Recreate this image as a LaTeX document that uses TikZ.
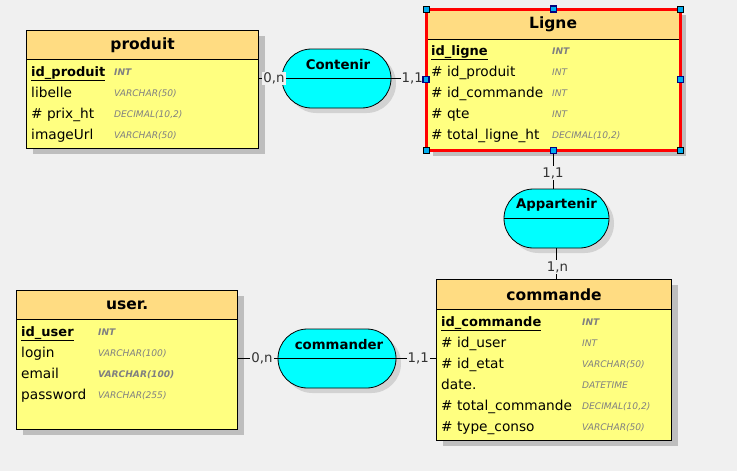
\documentclass[tikz,border=0pt]{standalone}
\usepackage{fontspec}
\setmainfont{DejaVu Sans}
\usetikzlibrary{positioning}
\definecolor{bg}{HTML}{F0F0F0}
\definecolor{hdr}{HTML}{FFDC82}
\definecolor{body}{HTML}{FFFF80}
\definecolor{shadowc}{HTML}{BEBEBE}
\definecolor{ashadow}{HTML}{D2D2D2}
\definecolor{typec}{HTML}{808080}
\definecolor{assoc}{HTML}{00FFFF}
\definecolor{navyh}{HTML}{000080}
\tikzset{
  x=1pt, y=-1pt,
  box/.style={draw=black, line width=1.2pt, fill=body, anchor=north west, inner sep=0pt},
  hdrbox/.style={draw=black, line width=1.2pt, fill=hdr, anchor=north west, inner sep=0pt, font=\fontsize{15.5}{15.5}\selectfont\bfseries},
  shad/.style={fill=shadowc},
  fld/.style={anchor=base west, inner sep=0pt, font=\fontsize{13.7}{13.7}\selectfont},
  pk/.style={fld, font=\fontsize{13}{13}\selectfont\bfseries},
  typ/.style={anchor=base west, inner sep=0pt, text=typec, font=\fontsize{9.1}{9.1}\selectfont\itshape},
  typb/.style={typ, font=\fontsize{9.1}{9.1}\selectfont\bfseries\itshape},
  asso/.style={draw=black, line width=0.8pt, fill=assoc, rounded corners=29.5pt, minimum height=59pt, inner sep=0pt},
  atitle/.style={inner sep=0pt, font=\fontsize{13.3}{13.3}\selectfont\bfseries},
  card/.style={fill=bg, inner sep=1pt, font=\fontsize{13.3}{13.3}\selectfont, text=black!80},
  link/.style={draw=black, line width=0.8pt},
  hcorner/.style={draw=black, fill=cyan, line width=1pt, minimum size=6pt, inner sep=0pt},
  hmid/.style={draw=navyh, fill=cyan, line width=1.2pt, minimum size=6pt, inner sep=0pt},
}
\begin{document}
\begin{tikzpicture}
\fill[bg] (0,0) rectangle (737,471);
\useasboundingbox (0,0) rectangle (737,471);

% ---------- produit ----------
\fill[shad] (33,36) rectangle (265,154);
\node[box, minimum width=232pt, minimum height=118pt] (produitbox) at (26,30) {};
\node[hdrbox, minimum width=232pt, minimum height=29pt] (produit) at (26,30) {produit};
\node[pk] (p1) at (31,76) {\underline{id\_produit}};
\node[fld] (p2) at (31,97) {libelle};
\node[fld] (p3) at (31,118) {\# prix\_ht};
\node[fld] (p4) at (31,139) {imageUrl};
\node[typb] (pt1) at (114,75) {INT};
\node[typ] (pt2) at (114,96) {VARCHAR(50)};
\node[typ] (pt3) at (114,117) {DECIMAL(10,2)};
\node[typ] (pt4) at (114,138) {VARCHAR(50)};

% ---------- Ligne ----------
\fill[shad] (433,15) rectangle (686,156);
\node[box, minimum width=253pt, minimum height=140pt] (lignebox) at (426,9) {};
\node[hdrbox, minimum width=253pt, minimum height=30pt] (ligne) at (426,9) {Ligne};
\node[pk] (l1) at (431,55) {\underline{id\_ligne}};
\node[fld] (l2) at (431,76) {\# id\_produit};
\node[fld] (l3) at (431,97) {\# id\_commande};
\node[fld] (l4) at (431,118) {\# qte};
\node[fld] (l5) at (431,139) {\# total\_ligne\_ht};
\node[typb] (lt1) at (552,54) {INT};
\node[typ] (lt2) at (552,75) {INT};
\node[typ] (lt3) at (552,96) {INT};
\node[typ] (lt4) at (552,117) {INT};
\node[typ] (lt5) at (552,138) {DECIMAL(10,2)};
\draw[red, line width=3pt] (lignebox.north west) rectangle (lignebox.south east);

% ---------- user ----------
\fill[shad] (23,296) rectangle (244,435);
\node[box, minimum width=221pt, minimum height=139pt] (userbox) at (16,290) {};
\node[hdrbox, minimum width=221pt, minimum height=29pt] (user) at (16,290) {user.};
\node[pk] (u1) at (21,336) {\underline{id\_user}};
\node[fld] (u2) at (21,357) {login};
\node[fld] (u3) at (21,378) {email};
\node[fld] (u4) at (21,399) {password};
\node[typb] (ut1) at (98,335) {INT};
\node[typ] (ut2) at (98,356) {VARCHAR(100)};
\node[typb] (ut3) at (98,377) {VARCHAR(100)};
\node[typ] (ut4) at (98,398) {VARCHAR(255)};

% ---------- commande ----------
\fill[shad] (443,285) rectangle (678,446);
\node[box, minimum width=235pt, minimum height=161pt] (commandebox) at (436,279) {};
\node[hdrbox, minimum width=235pt, minimum height=30pt] (commande) at (436,279) {commande};
\node[pk] (c1) at (441,326) {\underline{id\_commande}};
\node[fld] (c2) at (441,347) {\# id\_user};
\node[fld] (c3) at (441,368) {\# id\_etat};
\node[fld] (c4) at (441,389) {date.};
\node[fld] (c5) at (441,410) {\# total\_commande};
\node[fld] (c6) at (441,431) {\# type\_conso};
\node[typb] (ct1) at (582,325) {INT};
\node[typ] (ct2) at (582,346) {INT};
\node[typ] (ct3) at (582,367) {VARCHAR(50)};
\node[typ] (ct4) at (582,388) {DATETIME};
\node[typ] (ct5) at (582,409) {DECIMAL(10,2)};
\node[typ] (ct6) at (582,430) {VARCHAR(50)};

% ---------- associations ----------
\fill[ashadow, rounded corners=29.5pt] (287,54) rectangle (396,113);
\node[asso, minimum width=109pt] (contenir) at (336.5,78.5) {};
\draw[link] (contenir.west) -- (contenir.east);
\node[atitle] (contenirt) at (338,65) {Contenir};

\fill[ashadow, rounded corners=29.5pt] (509,194) rectangle (614,253);
\node[asso, minimum width=105pt] (appartenir) at (556.5,218.5) {};
\draw[link] (appartenir.west) -- (appartenir.east);
\node[atitle] (appartenirt) at (556.5,205) {Appartenir};

\fill[ashadow, rounded corners=29.5pt] (283,334) rectangle (401,393);
\node[asso, minimum width=118pt] (commander) at (337,358.5) {};
\draw[link] (commander.west) -- (commander.east);
\node[atitle] (commandert) at (339,345) {commander};

% ---------- connectors ----------
\draw[link] (produitbox.east |- contenir.west) -- (contenir.west);
\draw[link] (contenir.east) -- (lignebox.west |- contenir.east);
\draw[link] (lignebox.south) -- (lignebox.south |- appartenir.north);
\draw[link] (appartenir.south) -- (appartenir.south |- commandebox.north);
\draw[link] (userbox.east |- commander.west) -- (commander.west);
\draw[link] (commander.east) -- (commandebox.west |- commander.east);

% ---------- cardinalities ----------
\node[card, anchor=west] (k1) at ([xshift=3pt]produitbox.east |- contenir.west) {0,n};
\node[card, anchor=east] (k2) at ([xshift=-2pt]lignebox.west |- contenir.east) {1,1};
\node[card] (k3) at (553,173) {1,1};
\node[card] (k4) at (557.5,267) {1,n};
\node[card, anchor=west] (k5) at ([xshift=12pt]userbox.east |- commander.west) {0,n};
\node[card, anchor=east] (k6) at ([xshift=-6pt]commandebox.west |- commander.east) {1,1};

% ---------- selection handles ----------
\node[hcorner] (h1) at (lignebox.north west) {};
\node[hcorner] (h2) at (lignebox.north east) {};
\node[hcorner] (h3) at (lignebox.south west) {};
\node[hcorner] (h4) at (lignebox.south east) {};
\node[hmid] (h5) at (lignebox.north) {};
\node[hmid] (h6) at (lignebox.south) {};
\node[hmid] (h7) at (lignebox.west) {};
\node[hmid] (h8) at (lignebox.east) {};
\end{tikzpicture}
\end{document}
